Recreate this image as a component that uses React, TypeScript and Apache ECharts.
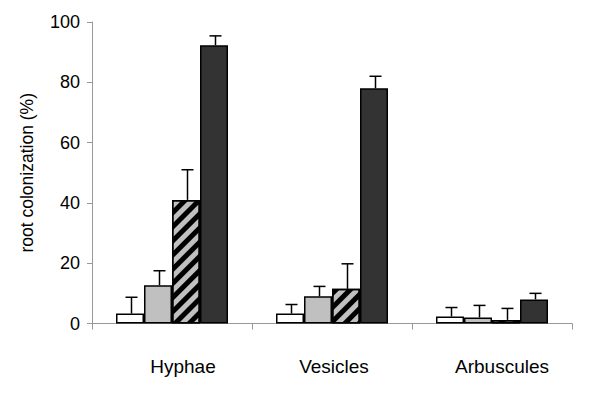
import React, { useEffect, useRef } from "react";
import * as echarts from "echarts";

const categories = ["Hyphae", "Vesicles", "Arbuscules"];
const seriesWhite = [3.3, 3.3, 2.3];
const errWhite = [5.4, 3.0, 3.0];
const seriesGrey = [12.7, 9.0, 2.0];
const errGrey = [4.8, 3.3, 4.0];
const seriesHatched = [41.0, 11.5, 1.2];
const errHatched = [10.0, 8.3, 3.8];
const seriesDark = [92.3, 78.0, 8.0];
const errDark = [3.1, 4.0, 2.0];
const yTicks = [0, 20, 40, 60, 80, 100];

const BAR_W = 28;
const FONT = "Liberation Sans, Arial, sans-serif";

export default function App() {
  const ref = useRef<HTMLDivElement>(null);
  useEffect(() => {
    if (!ref.current) return;
    const chart = echarts.init(ref.current, undefined, { renderer: "svg" });
    const values = [seriesWhite, seriesGrey, seriesHatched, seriesDark];
    const errs = [errWhite, errGrey, errHatched, errDark];
    const barBase = {
      type: "bar" as const,
      barWidth: BAR_W,
      barGap: "0%",
    };
    const errData: number[][] = [];
    values.forEach((vals, s) => {
      vals.forEach((v, c) => {
        errData.push([c, v, v + errs[s][c], s]);
      });
    });
    const labelStyle = { color: "#000", fontSize: 19, fontFamily: FONT };
    chart.setOption({
      animation: false,
      grid: { left: 92, right: 28, top: 22, bottom: 78.5 },
      xAxis: {
        type: "category",
        data: categories,
        axisLine: { show: true, lineStyle: { color: "#999", width: 1 } },
        axisTick: { show: true, length: 6, interval: 0, lineStyle: { color: "#999" } },
        axisLabel: {
          ...labelStyle,
          interval: 0,
          hideOverlap: false,
          margin: 33,
          formatter: (v: string) => {
            const i = categories.indexOf(v);
            return `{c${i}|${v}}`;
          },
          rich: {
            c0: { ...labelStyle, padding: [0, 0, 0, 22] },
            c1: { ...labelStyle, padding: [0, 0, 0, 4] },
            c2: { ...labelStyle, padding: [0, 0, 0, 20] },
          },
        },
      },
      yAxis: {
        type: "value",
        min: 0,
        max: 100,
        interval: 20,
        name: "root colonization (%)",
        nameLocation: "middle",
        nameGap: 56,
        nameTextStyle: { color: "#000", fontSize: 17.5, fontFamily: FONT },
        axisLine: { show: true, lineStyle: { color: "#999", width: 1 } },
        axisTick: { show: true, length: 5, lineStyle: { color: "#999" } },
        splitLine: { show: false },
        axisLabel: {
          color: "#000",
          fontSize: 18,
          fontFamily: FONT,
          margin: 12,
          formatter: (v: number) => (yTicks.includes(v) ? String(v) : ""),
        },
      },
      series: [
        {
          ...barBase,
          data: seriesWhite,
          itemStyle: { color: "#ffffff", borderColor: "#000", borderWidth: 1.5 },
        },
        {
          ...barBase,
          data: seriesGrey,
          itemStyle: { color: "#c0c0c0", borderColor: "#000", borderWidth: 1.5 },
        },
        {
          ...barBase,
          data: seriesHatched,
          itemStyle: {
            color: "#c0c0c0",
            borderColor: "#000",
            borderWidth: 1.5,
            decal: {
              symbol: "rect",
              symbolSize: 1,
              symbolKeepAspect: false,
              color: "#000",
              dashArrayX: [1, 0],
              dashArrayY: [5, 5],
              rotation: -Math.PI / 4,
            },
          },
        },
        {
          ...barBase,
          data: seriesDark,
          itemStyle: { color: "#333333", borderColor: "#000", borderWidth: 1.5 },
        },
        {
          type: "custom",
          data: errData,
          z: 1,
          renderItem: (params: any, api: any) => {
            const c = api.value(0);
            const v = api.value(1);
            const top = api.value(2);
            const s = api.value(3);
            const base = api.coord([c, v]);
            const tp = api.coord([c, top]);
            const x = base[0] + (s - 1.5) * BAR_W + 1.5;
            const style = { stroke: "#000", lineWidth: 1.5 };
            return {
              type: "group",
              children: [
                { type: "line", shape: { x1: x, y1: base[1], x2: x, y2: tp[1] }, style },
                { type: "line", shape: { x1: x - 6, y1: tp[1], x2: x + 6, y2: tp[1] }, style },
              ],
            };
          },
        },
      ],
    });
    return () => chart.dispose();
  }, []);
  return <div ref={ref} style={{ width: 600, height: 402, margin: -8 }} />;
}
